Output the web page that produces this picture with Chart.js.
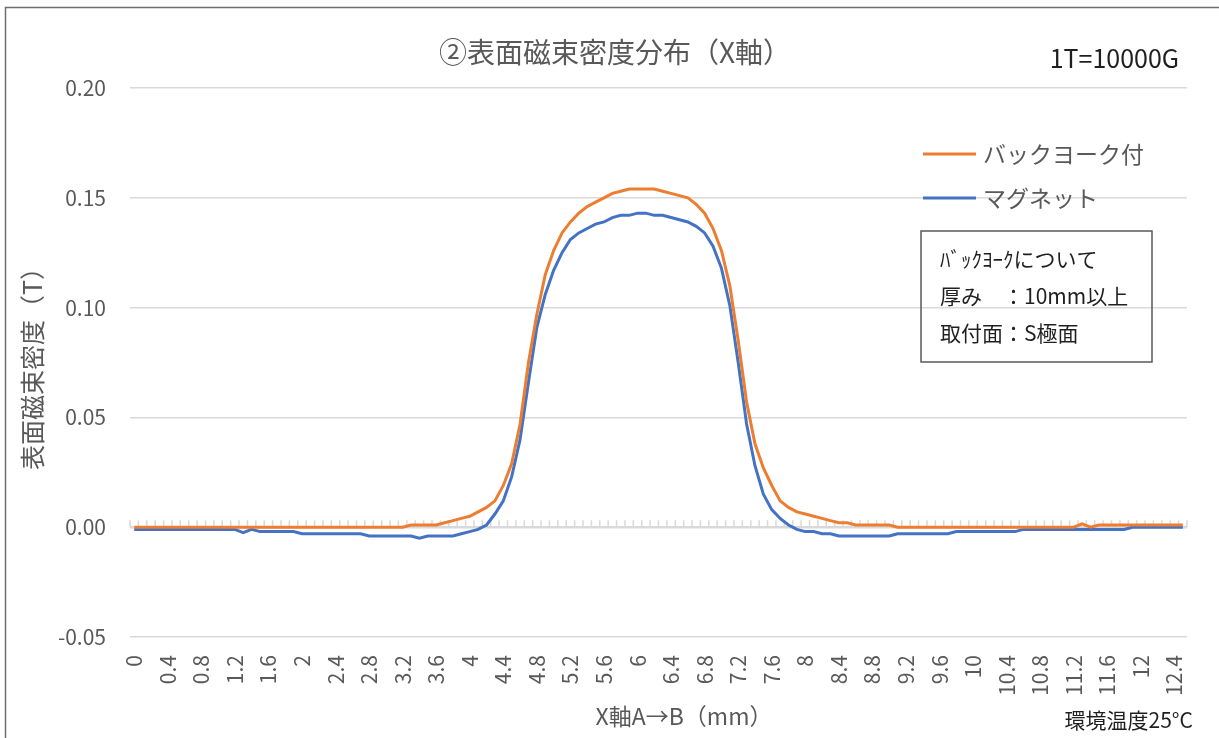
<!DOCTYPE html>
<html lang="ja">
<head>
<meta charset="utf-8">
<title>②表面磁束密度分布（X軸）</title>
<script src="https://cdn.jsdelivr.net/npm/chart.js@4.4.1/dist/chart.umd.min.js"></script>
<style>
    html, body { margin: 0; padding: 0; background: #fff; }
    #wrap { width: 1219px; height: 738px; position: relative; }
</style>
</head>
<body>
<div id="wrap"><canvas id="fluxChart"></canvas></div>
<script>
// X軸の測定位置 (mm)
const positions = [
    '0', '0.1', '0.2', '0.3', '0.4', '0.5', '0.6', '0.7', '0.8', '0.9',
    '1', '1.1', '1.2', '1.3', '1.4', '1.5', '1.6', '1.7', '1.8', '1.9',
    '2', '2.1', '2.2', '2.3', '2.4', '2.5', '2.6', '2.7', '2.8', '2.9',
    '3', '3.1', '3.2', '3.3', '3.4', '3.5', '3.6', '3.7', '3.8', '3.9',
    '4', '4.1', '4.2', '4.3', '4.4', '4.5', '4.6', '4.7', '4.8', '4.9',
    '5', '5.1', '5.2', '5.3', '5.4', '5.5', '5.6', '5.7', '5.8', '5.9',
    '6', '6.1', '6.2', '6.3', '6.4', '6.5', '6.6', '6.7', '6.8', '6.9',
    '7', '7.1', '7.2', '7.3', '7.4', '7.5', '7.6', '7.7', '7.8', '7.9',
    '8', '8.1', '8.2', '8.3', '8.4', '8.5', '8.6', '8.7', '8.8', '8.9',
    '9', '9.1', '9.2', '9.3', '9.4', '9.5', '9.6', '9.7', '9.8', '9.9',
    '10', '10.1', '10.2', '10.3', '10.4', '10.5', '10.6', '10.7', '10.8', '10.9',
    '11', '11.1', '11.2', '11.3', '11.4', '11.5', '11.6', '11.7', '11.8', '11.9',
    '12', '12.1', '12.2', '12.3', '12.4', '12.5'
];

// バックヨーク付 (T)
const backYoke = [
    0, 0, 0, 0, 0, 0, 0, 0, 0, 0,
    0, 0, 0, 0, 0, 0, 0, 0, 0, 0,
    0, 0, 0, 0, 0, 0, 0, 0, 0, 0,
    0, 0, 0, 0.001, 0.001, 0.001, 0.001, 0.002, 0.003, 0.004,
    0.005, 0.007, 0.009, 0.012, 0.019, 0.029, 0.047, 0.075, 0.097, 0.115,
    0.126, 0.134, 0.139, 0.143, 0.146, 0.148, 0.150, 0.152, 0.153, 0.154,
    0.154, 0.154, 0.154, 0.153, 0.152, 0.151, 0.150, 0.147, 0.143, 0.136,
    0.126, 0.110, 0.085, 0.057, 0.038, 0.027, 0.019, 0.012, 0.009, 0.007,
    0.006, 0.005, 0.004, 0.003, 0.002, 0.002, 0.001, 0.001, 0.001, 0.001,
    0.001, 0, 0, 0, 0, 0, 0, 0, 0, 0,
    0, 0, 0, 0, 0, 0, 0, 0, 0, 0,
    0, 0, 0, 0.0015, 0, 0.001, 0.001, 0.001, 0.001, 0.001,
    0.001, 0.001, 0.001, 0.001, 0.001, 0.001
];

// マグネット (T)
const magnet = [
    -0.001, -0.001, -0.001, -0.001, -0.001, -0.001, -0.001, -0.001, -0.001, -0.001,
    -0.001, -0.001, -0.001, -0.0025, -0.001, -0.002, -0.002, -0.002, -0.002, -0.002,
    -0.003, -0.003, -0.003, -0.003, -0.003, -0.003, -0.003, -0.003, -0.004, -0.004,
    -0.004, -0.004, -0.004, -0.004, -0.005, -0.004, -0.004, -0.004, -0.004, -0.003,
    -0.002, -0.001, 0.001, 0.006, 0.012, 0.023, 0.040, 0.066, 0.091, 0.106,
    0.117, 0.125, 0.131, 0.134, 0.136, 0.138, 0.139, 0.141, 0.142, 0.142,
    0.143, 0.143, 0.142, 0.142, 0.141, 0.140, 0.139, 0.137, 0.134, 0.128,
    0.118, 0.101, 0.075, 0.047, 0.028, 0.015, 0.008, 0.004, 0.001, -0.001,
    -0.002, -0.002, -0.003, -0.003, -0.004, -0.004, -0.004, -0.004, -0.004, -0.004,
    -0.004, -0.003, -0.003, -0.003, -0.003, -0.003, -0.003, -0.003, -0.002, -0.002,
    -0.002, -0.002, -0.002, -0.002, -0.002, -0.002, -0.001, -0.001, -0.001, -0.001,
    -0.001, -0.001, -0.001, -0.001, -0.001, -0.001, -0.001, -0.001, -0.001, 0,
    0, 0, 0, 0, 0, 0
];

const chartTitle = '②表面磁束密度分布（X軸）';
const noteLines = ['ﾊﾞｯｸﾖｰｸについて', '厚み　：10mm以上', '取付面：S極面'];

const JP = '"Noto Sans CJK JP", "Noto Sans", sans-serif';
const gray = '#595959';

// 枠線、タイトル、ゼロ線の目盛、凡例、注記
const decorations = {
    id: 'decorations',
    beforeDraw(chart) {
        const ctx = chart.ctx;
        ctx.save();
        ctx.fillStyle = '#fff';
        ctx.fillRect(0, 0, chart.width, chart.height);
        ctx.strokeStyle = '#6e6e6e';
        ctx.lineWidth = 1.5;
        ctx.strokeRect(5.5, 7.5, chart.width + 20, chart.height + 20);
        ctx.restore();
    },
    beforeDatasetsDraw(chart) {
        const ctx = chart.ctx;
        const x = chart.scales.x;
        const y0 = chart.scales.y.getPixelForValue(0);
        ctx.save();
        ctx.strokeStyle = '#d9d9d9';
        ctx.lineWidth = 1.5;
        ctx.beginPath();
        for (let i = 0; i <= positions.length; i++) {
            const px = x.getPixelForValue(i - 0.5);
            ctx.moveTo(px, y0);
            ctx.lineTo(px, y0 - 7);
        }
        ctx.stroke();
        ctx.restore();
    },
    afterDraw(chart) {
        const ctx = chart.ctx;
        ctx.save();

        // title
        ctx.textBaseline = 'middle';
        ctx.textAlign = 'left';
        ctx.fillStyle = gray;
        ctx.font = '28px ' + JP;
        ctx.fillText(chartTitle, 439, 52);

        // legend
        ctx.font = '23px ' + JP;
        chart.data.datasets.forEach((ds, i) => {
            const ly = 154 + i * 44;
            ctx.strokeStyle = ds.borderColor;
            ctx.lineWidth = 3;
            ctx.beginPath();
            ctx.moveTo(923, ly);
            ctx.lineTo(976, ly);
            ctx.stroke();
            ctx.fillStyle = gray;
            ctx.fillText(ds.label, 983, ly);
        });

        // note box
        ctx.strokeStyle = gray;
        ctx.lineWidth = 1.5;
        ctx.strokeRect(921, 231, 231, 131);
        ctx.fillStyle = '#1f1f1f';
        ctx.font = '21px ' + JP;
        noteLines.forEach((t, i) => {
            ctx.fillText(t, 940, 259 + i * 37);
        });

        // x axis title
        ctx.fillStyle = gray;
        ctx.font = '23px ' + JP;
        ctx.textAlign = 'center';
        ctx.fillText('X軸A→B（mm）', 684, 716);

        // unit and temperature notes
        ctx.fillStyle = '#1f1f1f';
        ctx.textAlign = 'right';
        ctx.font = '25px ' + JP;
        ctx.fillText('1T=10000G', 1179, 58);
        ctx.font = '21px ' + JP;
        ctx.fillText('環境温度25°C', 1193, 720);

        ctx.restore();
    }
};

const ctx = document.getElementById('fluxChart').getContext('2d');
const chart = new Chart(ctx, {
    type: 'line',
    data: {
        labels: positions,
        datasets: [
            {
                label: 'バックヨーク付',
                data: backYoke,
                borderColor: '#ed7d31',
                borderWidth: 3,
                pointRadius: 0,
                tension: 0,
                fill: false
            },
            {
                label: 'マグネット',
                data: magnet,
                borderColor: '#4472c4',
                borderWidth: 3,
                pointRadius: 0,
                tension: 0,
                fill: false
            }
        ]
    },
    options: {
        responsive: true,
        maintainAspectRatio: false,
        animation: false,
        layout: {
            padding: { left: 0, right: 32, top: 88, bottom: 0 }
        },
        plugins: {
            legend: { display: false },
            tooltip: { enabled: false },
            title: { display: false }
        },
        scales: {
            x: {
                type: 'category',
                offset: true,
                grid: { display: false },
                border: { display: false },
                ticks: {
                    autoSkip: false,
                    minRotation: 90,
                    maxRotation: 90,
                    padding: 10,
                    color: gray,
                    font: { family: JP, size: 21 },
                    callback: function(value, index) {
                        return index % 4 === 0 ? this.getLabelForValue(value) : null;
                    }
                },
                afterFit: function(scale) {
                    scale.height = 101;
                }
            },
            y: {
                min: -0.05,
                max: 0.2,
                grid: {
                    color: '#d9d9d9',
                    drawTicks: false,
                    lineWidth: function(c) {
                        return c.tick && Math.abs(c.tick.value) < 1e-9 ? 2.5 : 1.5;
                    }
                },
                border: { display: false },
                ticks: {
                    stepSize: 0.05,
                    padding: 24,
                    color: gray,
                    font: { family: JP, size: 21 },
                    callback: function(value) {
                        return value.toFixed(2);
                    }
                },
                title: {
                    display: true,
                    text: '表面磁束密度（T）',
                    color: gray,
                    font: { family: JP, size: 25 },
                    padding: { top: 17, bottom: 0 }
                },
                afterFit: function(scale) {
                    scale.width = 130;
                }
            }
        }
    },
    plugins: [decorations]
});
</script>
</body>
</html>
